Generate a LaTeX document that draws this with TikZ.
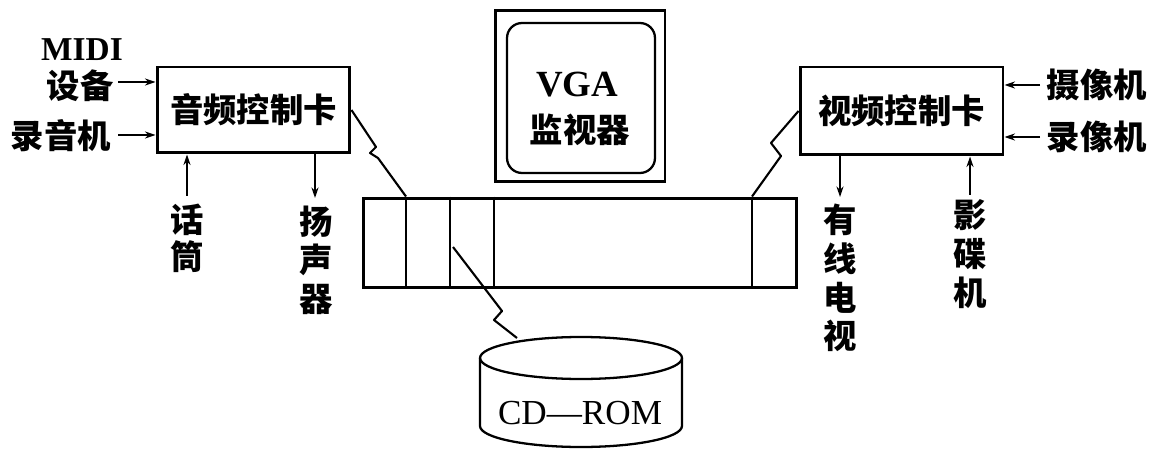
\documentclass[tikz,border=0pt]{standalone}
\usepackage{fontspec}
\setmainfont{Liberation Serif}
\newfontfamily\cjk{Noto Sans CJK SC}
\usetikzlibrary{arrows.meta}
\begin{document}
\begin{tikzpicture}[x=0.02cm,y=-0.02cm,
  box/.style={draw,line width=1.7pt,inner sep=0pt},
  lbl/.style={inner sep=0pt,font=\fontsize{19}{22}\selectfont\cjk\bfseries,align=center},
  lat/.style={inner sep=0pt,font=\fontsize{19}{22}\selectfont\bfseries},
  arr/.style={line width=1.2pt,-{Stealth[length=6pt,width=4pt]}},
  wire/.style={line width=1.2pt,line join=round}]
\useasboundingbox (0,0) rectangle (1155,449);

% boxes
\node[box,minimum width=3.86cm,minimum height=1.72cm,font=\fontsize{19}{22}\selectfont\cjk\bfseries] (audio) at (253.5,110) {音频控制卡};
\node[box,minimum width=4.06cm,minimum height=1.76cm,font=\fontsize{19}{22}\selectfont\cjk\bfseries] (video) at (901.5,111) {视频控制卡};
\node[box,minimum width=3.4cm,minimum height=3.44cm] (vga) at (580,96) {};
\node[draw,line width=1.3pt,rounded corners=0.3cm,minimum width=2.96cm,minimum height=3.0cm,inner sep=0pt] (vgain) at (581,98) {};
\node[lat,font=\fontsize{21}{24}\selectfont\bfseries] (vgat) at (577,85) {VGA};
\node[lbl] (vgac) at (580,130) {监视器};
\node[box,minimum width=8.68cm,minimum height=1.8cm] (bus) at (580,243) {};
\coordinate (d1) at (406,0);
\coordinate (d2) at (450,0);
\coordinate (d3) at (494,0);
\coordinate (d4) at (752,0);
\foreach \d in {d1,d2,d3,d4}
  \draw[line width=1.6pt] (bus.north -| \d) -- (bus.south -| \d);

% CD-ROM cylinder
\draw[line width=1.3pt] (581,358) ellipse [x radius=2.02cm, y radius=0.42cm];
\draw[line width=1.3pt] (480,358) -- (480,426) arc [start angle=180,end angle=360,x radius=2.02cm,y radius=0.42cm] -- (682,358);
\node[inner sep=0pt,font=\fontsize{20}{22}\selectfont] (cd) at (580,413) {CD---ROM};
\coordinate (cdtop) at (517,338);
\coordinate (cdtap) at (453,247);

% labels
\node[lat] (midi) at (82,50) {MIDI};
\node[lbl] (midi2) at (80,86) {设备};
\node[lbl] (rec) at (61,136) {录音机};
\node[lbl] (mic) at (187,238) {话\\[-1pt]筒};
\node[lbl] (spk) at (316,260) {扬\\声\\器};
\node[lbl] (tv) at (840,278) {有\\线\\电\\视};
\node[lbl] (vcd) at (970,254) {影\\碟\\机};
\node[lbl] (cam) at (1097,85) {摄像机};
\node[lbl] (vcr) at (1097,137) {录像机};

% arrow endpoints
\coordinate (a1) at (118,82);
\coordinate (a2) at (118,135);
\coordinate (a3) at (187,196);
\coordinate (a4) at (315,198);
\coordinate (a5) at (840,197);
\coordinate (a6) at (970,195);
\coordinate (a7) at (1040,85);
\coordinate (a8) at (1040,137);

\draw[arr] (a1) -- (a1 -| audio.west);
\draw[arr] (a2) -- (a2 -| audio.west);
\draw[arr] (a3) -- (a3 |- audio.south);
\draw[arr] (a4 |- audio.south) -- (a4);
\draw[arr] (a5 |- video.south) -- (a5);
\draw[arr] (a6) -- (a6 |- video.south);
\draw[arr] (a7) -- (a7 -| video.east);
\draw[arr] (a8) -- (a8 -| video.east);

% zigzag connectors
\draw[wire] (audio.east) -- (376,147) -- (370,153) -- (378,158) -- (bus.north -| d1);
\draw[wire] (video.west) -- (771,143) -- (781,156) -- (bus.north -| d4);
\draw[wire] (cdtap) -- (502,311) -- (494,320) -- (cdtop);
\end{tikzpicture}
\end{document}
